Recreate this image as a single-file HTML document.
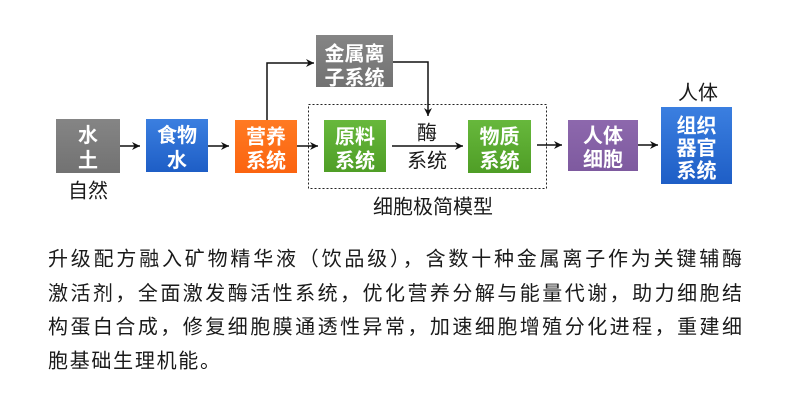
<!DOCTYPE html>
<html>
<head>
<meta charset="utf-8">
<style>
html,body{margin:0;padding:0;background:#fff;}
body{width:790px;height:405px;overflow:hidden;}
svg{display:block;}
.bx{font-family:"Liberation Sans","Noto Sans CJK SC",sans-serif;font-size:20px;font-weight:bold;fill:#fff;text-anchor:middle;}
.lb{font-family:"Liberation Sans","Noto Sans CJK SC",sans-serif;font-size:20px;fill:#1a1a1a;text-anchor:middle;}
.pt{font-family:"Liberation Sans","Noto Sans CJK SC",sans-serif;font-size:20px;fill:#1a1a1a;}
</style>
</head>
<body>
<svg width="790" height="405" viewBox="0 0 790 405" xmlns="http://www.w3.org/2000/svg">
<defs>
<marker id="ar" markerWidth="9" markerHeight="8" refX="8" refY="4" orient="auto" markerUnits="userSpaceOnUse">
<path d="M0,0 L8,4 L0,8 L2.5,4 z" fill="#111"/>
</marker>
<linearGradient id="gGray" x1="0" y1="0" x2="0" y2="1"><stop offset="0" stop-color="#858585"/><stop offset="1" stop-color="#727272"/></linearGradient>
<linearGradient id="gBlue" x1="0" y1="0" x2="0" y2="1"><stop offset="0" stop-color="#3b7fe0"/><stop offset="1" stop-color="#1e5ec6"/></linearGradient>
<linearGradient id="gOrange" x1="0" y1="0" x2="0" y2="1"><stop offset="0" stop-color="#ff7a22"/><stop offset="1" stop-color="#fb6410"/></linearGradient>
<linearGradient id="gGreen" x1="0" y1="0" x2="0" y2="1"><stop offset="0" stop-color="#67b83c"/><stop offset="1" stop-color="#4f9e26"/></linearGradient>
<linearGradient id="gPurple" x1="0" y1="0" x2="0" y2="1"><stop offset="0" stop-color="#8d68ad"/><stop offset="1" stop-color="#7e5a9f"/></linearGradient>
</defs>

<!-- dotted frame -->
<rect x="308.5" y="104.5" width="238" height="84" fill="none" stroke="#222" stroke-width="1" stroke-dasharray="2,2"/>

<!-- boxes -->
<rect x="56" y="119" width="64" height="54" fill="url(#gGray)"/>
<text class="bx" x="88" y="142">水</text>
<text class="bx" x="88" y="167">土</text>

<rect x="146" y="119" width="62" height="53" fill="url(#gBlue)"/>
<text class="bx" x="177" y="142">食物</text>
<text class="bx" x="177" y="167">水</text>

<rect x="235" y="120" width="62" height="53" fill="url(#gOrange)"/>
<text class="bx" x="266" y="143.5">营养</text>
<text class="bx" x="266" y="167.5">系统</text>

<rect x="316" y="35" width="77" height="52" fill="url(#gGray)"/>
<text class="bx" x="354.5" y="60.5">金属离</text>
<text class="bx" x="354.5" y="84.5">子系统</text>

<rect x="324" y="120" width="62" height="52" fill="url(#gGreen)"/>
<text class="bx" x="355" y="143.5">原料</text>
<text class="bx" x="355" y="167.5">系统</text>

<rect x="468" y="120" width="63" height="53" fill="url(#gGreen)"/>
<text class="bx" x="499.5" y="143.5">物质</text>
<text class="bx" x="499.5" y="167.5">系统</text>

<rect x="568" y="120" width="70" height="51" fill="url(#gPurple)"/>
<text class="bx" x="603" y="142.5">人体</text>
<text class="bx" x="603" y="166">细胞</text>

<rect x="661" y="107" width="71" height="77" fill="url(#gBlue)"/>
<text class="bx" x="696.5" y="132.5">组织</text>
<text class="bx" x="696.5" y="155">器官</text>
<text class="bx" x="696.5" y="177.5">系统</text>

<!-- connectors -->
<g stroke="#111" stroke-width="1.5" fill="none">
<line x1="120" y1="146" x2="140" y2="146" marker-end="url(#ar)"/>
<line x1="208" y1="146" x2="229" y2="146" marker-end="url(#ar)"/>
<line x1="297" y1="146" x2="318" y2="146" marker-end="url(#ar)"/>
<line x1="392" y1="146" x2="463" y2="146" marker-end="url(#ar)"/>
<line x1="537" y1="145" x2="562" y2="145" marker-end="url(#ar)"/>
<line x1="638" y1="145" x2="658" y2="145" marker-end="url(#ar)"/>
<polyline points="267,120 267,63 314,63" marker-end="url(#ar)"/>
<polyline points="393,62 428,62 428,116" marker-end="url(#ar)"/>
</g>

<!-- labels -->
<text class="lb" x="88" y="197.5">自然</text>
<text class="lb" x="427" y="139.5">酶</text>
<text class="lb" x="427" y="167.5">系统</text>
<text class="lb" x="433" y="213.5">细胞极简模型</text>
<text class="lb" x="698" y="99.5">人体</text>

<!-- paragraph -->
<text class="pt" x="48" y="265.6" textLength="694" lengthAdjust="spacing">升级配方融入矿物精华液（饮品级），含数十种金属离子作为关键辅酶</text>
<text class="pt" x="48" y="300" textLength="694" lengthAdjust="spacing">激活剂，全面激发酶活性系统，优化营养分解与能量代谢，助力细胞结</text>
<text class="pt" x="48" y="333.5" textLength="694" lengthAdjust="spacing">构蛋白合成，修复细胞膜通透性异常，加速细胞增殖分化进程，重建细</text>
<text class="pt" x="48" y="367.5" textLength="172" lengthAdjust="spacing">胞基础生理机能。</text>
</svg>
</body>
</html>
